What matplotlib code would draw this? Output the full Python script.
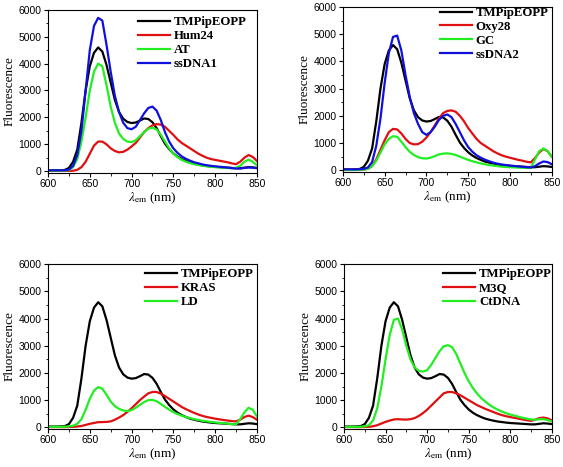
import matplotlib
matplotlib.use("Agg")
import matplotlib.pyplot as plt
from matplotlib.ticker import MultipleLocator

# --- Data ---
wl = [600, 605, 610, 615, 620, 625, 630, 635, 640, 645, 650, 655, 660, 665, 670,
      675, 680, 685, 690, 695, 700, 705, 710, 715, 720, 725, 730, 735, 740, 745,
      750, 755, 760, 765, 770, 775, 780, 785, 790, 795, 800, 805, 810, 815, 820,
      825, 830, 835, 840, 845, 850]

tmpip = [30, 30, 30, 35, 45, 120, 350, 800, 1800, 3000, 3900, 4400, 4600, 4450, 3950,
         3300, 2650, 2200, 1950, 1830, 1790, 1810, 1880, 1960, 1940, 1820, 1600, 1300, 1020, 820,
         660, 540, 450, 380, 320, 280, 245, 215, 195, 175, 160, 150, 140, 130, 120,
         110, 110, 130, 150, 140, 120]

hum24 = [10, 10, 10, 10, 10, 10, 15, 50, 150, 350, 650, 950, 1100, 1100, 1000,
         850, 750, 700, 720, 800, 920, 1050, 1250, 1450, 1600, 1700, 1750, 1730, 1650, 1500,
         1350, 1180, 1050, 950, 850, 750, 650, 570, 500, 450, 420, 390, 360, 330, 290,
         260, 350, 500, 600, 530, 380]
at_ = [20, 20, 20, 20, 25, 40, 150, 450, 1100, 2000, 3000, 3700, 4000, 3900, 3200,
       2400, 1800, 1400, 1200, 1100, 1080, 1150, 1300, 1450, 1580, 1620, 1550, 1350, 1100, 850,
       650, 520, 420, 350, 300, 260, 230, 200, 180, 165, 150, 140, 130, 120, 110,
       120, 200, 350, 430, 350, 220]
ssdna1 = [30, 30, 30, 30, 35, 60, 200, 600, 1500, 3000, 4500, 5400, 5700, 5600, 4700,
          3700, 2800, 2200, 1800, 1600, 1560, 1650, 1900, 2150, 2350, 2400, 2250, 1900, 1450, 1100,
          850, 680, 550, 460, 390, 330, 290, 250, 220, 200, 180, 165, 150, 130, 115,
          100, 100, 120, 140, 130, 110]

oxy28 = [10, 10, 10, 10, 15, 25, 50, 150, 400, 750, 1100, 1400, 1520, 1500, 1350,
         1150, 1000, 950, 960, 1050, 1200, 1400, 1650, 1900, 2100, 2180, 2200, 2150, 2000, 1800,
         1550, 1350, 1150, 1000, 900, 800, 700, 620, 550, 500, 460, 420, 380, 350, 310,
         290, 450, 650, 780, 700, 500]
gc = [10, 10, 10, 10, 15, 25, 50, 150, 350, 650, 950, 1150, 1250, 1230, 1050,
      850, 680, 560, 480, 440, 430, 460, 520, 580, 610, 620, 600, 560, 500, 440,
      380, 330, 290, 250, 220, 190, 170, 150, 130, 120, 110, 105, 95, 90, 85,
      90, 400, 700, 800, 700, 500]
ssdna2 = [30, 30, 30, 30, 35, 50, 100, 300, 900, 1900, 3200, 4300, 4900, 4950, 4400,
          3500, 2700, 2100, 1700, 1400, 1300, 1400, 1600, 1850, 2000, 2050, 1950, 1700, 1400, 1100,
          850, 680, 550, 460, 390, 330, 280, 240, 210, 190, 170, 155, 140, 125, 110,
          100, 150, 250, 320, 300, 220]

kras = [10, 10, 10, 10, 10, 15, 20, 30, 50, 90, 130, 160, 190, 195, 200,
        220, 280, 360, 450, 570, 700, 850, 1000, 1130, 1250, 1300, 1300, 1240, 1150, 1050,
        950, 850, 750, 670, 600, 530, 470, 420, 380, 350, 320, 295, 270, 250, 230,
        220, 280, 380, 430, 380, 280]
ld = [20, 20, 20, 20, 25, 35, 60, 130, 300, 650, 1050, 1350, 1480, 1420, 1200,
      950, 780, 680, 620, 600, 630, 720, 830, 930, 1000, 1010, 960, 860, 750, 650,
      560, 490, 430, 380, 340, 300, 270, 240, 220, 200, 180, 165, 150, 135, 120,
      110, 300, 550, 720, 650, 400]

m3q = [10, 10, 10, 10, 10, 15, 20, 40, 80, 140, 200, 250, 290, 300, 290,
       285, 300, 340, 420, 520, 650, 800, 950, 1100, 1250, 1300, 1300, 1250, 1180, 1090,
       1000, 910, 820, 750, 680, 620, 560, 500, 450, 410, 380, 350, 320, 290, 260,
       240, 280, 340, 360, 330, 260]
ctdna = [20, 20, 20, 20, 25, 35, 80, 250, 700, 1500, 2500, 3400, 3950, 4000, 3600,
         3000, 2500, 2200, 2080, 2050, 2100, 2300, 2550, 2800, 2980, 3020, 2950, 2700, 2350, 2000,
         1700, 1450, 1250, 1080, 950, 830, 730, 650, 580, 520, 470, 430, 390, 350, 320,
         290, 280, 300, 300, 270, 220]

RED = '#e01010'
GREEN = '#22ee22'
BLUE = '#1010dd'

panels = [
    # (axes rect, legend anchor, series)
    ([0.0853, 0.630, 0.371, 0.349], (0.43, 0.96),
     [(tmpip, 'black', 'TMPipEOPP'), (hum24, RED, 'Hum24'),
      (at_, GREEN, 'AT'), (ssdna1, BLUE, 'ssDNA1')]),
    ([0.609, 0.632, 0.371, 0.353], (0.464, 1.0),
     [(tmpip, 'black', 'TMPipEOPP'), (oxy28, RED, 'Oxy28'),
      (gc, GREEN, 'GC'), (ssdna2, BLUE, 'ssDNA2')]),
    ([0.0853, 0.0814, 0.371, 0.353], (0.464, 0.975),
     [(tmpip, 'black', 'TMPipEOPP'), (kras, RED, 'KRAS'), (ld, GREEN, 'LD')]),
    ([0.611, 0.0814, 0.369, 0.353], (0.478, 0.975),
     [(tmpip, 'black', 'TMPipEOPP'), (m3q, RED, 'M3Q'), (ctdna, GREEN, 'CtDNA')]),
]

plt.rcParams['mathtext.fontset'] = 'stix'

fig = plt.figure(figsize=(5.63, 4.67), dpi=100)

for rect, anchor, series in panels:
    ax = fig.add_axes(rect)
    for ys, col, lab in series:
        ax.plot(wl, ys, color=col, lw=1.6, label=lab)
    ax.set_xlim(600, 850)
    ax.set_ylim(-60, 6000)
    ax.xaxis.set_major_locator(MultipleLocator(50))
    ax.xaxis.set_minor_locator(MultipleLocator(25))
    ax.yaxis.set_major_locator(MultipleLocator(1000))
    ax.yaxis.set_minor_locator(MultipleLocator(500))
    ax.tick_params(which='major', length=3, width=0.8, labelsize=7.5, pad=1.5)
    ax.tick_params(which='minor', length=1.8, width=0.6)
    for lbl in ax.get_xticklabels() + ax.get_yticklabels():
        lbl.set_fontfamily('Liberation Sans')
    for sp in ax.spines.values():
        sp.set_linewidth(0.8)
    ax.set_ylabel('Fluorescence', fontfamily='Liberation Serif', fontsize=9.5, labelpad=2)
    ax.set_xlabel(r'$\lambda_{\mathrm{em}}$ (nm)', fontfamily='Liberation Serif',
                  fontsize=9.5, labelpad=1)
    ax.legend(loc='upper left', bbox_to_anchor=anchor, frameon=False,
              prop={'family': 'Liberation Serif', 'weight': 'bold', 'size': 9.2},
              handlelength=2.5, handletextpad=0.3, labelspacing=0.15, borderpad=0,
              borderaxespad=0)

fig.savefig('out.png', dpi=100)
